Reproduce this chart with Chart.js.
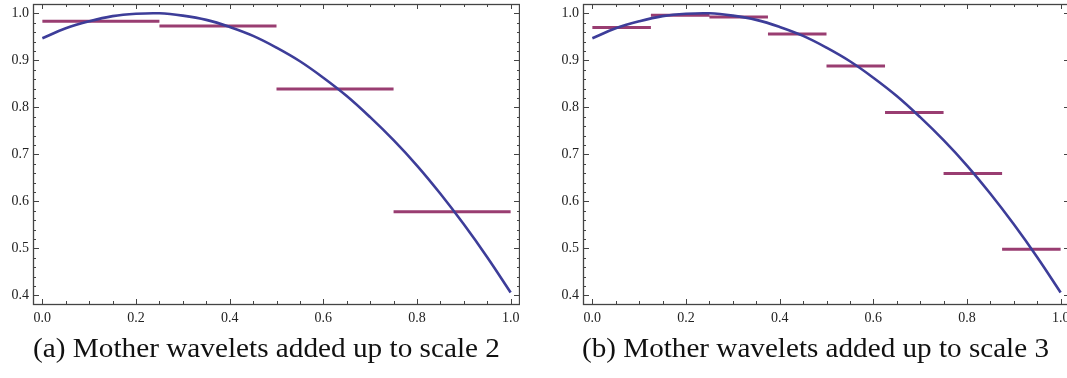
<!DOCTYPE html>
<html><head><meta charset="utf-8">
<script src="https://cdn.jsdelivr.net/npm/chart.js@4.4.1/dist/chart.umd.min.js"></script>
<style>
html,body{margin:0;padding:0;background:#fff;width:1067px;height:378px;overflow:hidden;position:relative}
.wrap{position:absolute;top:0;width:520px;height:334px}
#wa{left:0}
#wb{left:550px}
.cap{position:absolute;font-family:"Liberation Serif","Times New Roman",serif;font-size:28px;line-height:28px;color:#111;white-space:nowrap;transform-origin:0 0}
</style></head><body>
<div class="wrap" id="wa"><canvas id="ca"></canvas></div>
<div class="wrap" id="wb"><canvas id="cb"></canvas></div>
<div class="cap" id="capA" style="left:33px;top:334px">(a) Mother wavelets added up to scale 2</div>
<div class="cap" id="capB" style="left:582px;top:334px">(b) Mother wavelets added up to scale 3</div>
<script>
// ---- data ----
const curveX = [0,0.05,0.1,0.15,0.2,0.25,0.3,0.35,0.4,0.45,0.5,0.55,0.6,0.65,0.7,0.75,0.8,0.85,0.9,0.95,1.0];
const curveY = [0.947,0.968,0.983,0.994,0.999,1.000,0.995,0.986,0.971,0.952,0.927,0.898,0.863,0.824,0.779,0.730,0.676,0.616,0.551,0.481,0.406];
const edgesA = [0,0.25,0.5,0.75,1];
const stepsA = [0.983,0.973,0.839,0.578];
const edgesB = [0,0.125,0.25,0.375,0.5,0.625,0.75,0.875,1];
const stepsB = [0.970,0.996,0.992,0.956,0.888,0.789,0.659,0.498];
const xTickLabels = ['0.0','0.2','0.4','0.6','0.8','1.0'];
const yTickLabels = ['0.4','0.5','0.6','0.7','0.8','0.9','1.0'];

const FRAME = '#444';
const SERIF = '"Liberation Serif", "Times New Roman", serif';
const frameTicks = {
  id:'frameTicks',
  afterDraw(chart){
    const {ctx, chartArea:a, scales:{x,y}} = chart;
    ctx.save();
    ctx.strokeStyle = FRAME; ctx.lineWidth = 1;
    ctx.beginPath();
    for (let i=0;i<=20;i++){
      const px = Math.round(x.getPixelForValue(i*0.05))+0.5;
      const L = (i%4===0)?5:3;
      ctx.moveTo(px,a.bottom); ctx.lineTo(px,a.bottom-L);
      ctx.moveTo(px,a.top); ctx.lineTo(px,a.top+L);
    }
    for (let i=19;i<=51;i++){
      const v = i*0.02;
      if (v<y.min||v>y.max) continue;
      const py = Math.round(y.getPixelForValue(v))+0.5;
      const L = (i%5===0)?6:3;
      ctx.moveTo(a.left,py); ctx.lineTo(a.left+L,py);
      ctx.moveTo(a.right,py); ctx.lineTo(a.right-L,py);
    }
    ctx.stroke();
    ctx.lineWidth = 1.3;
    ctx.strokeRect(Math.round(a.left)+0.5, Math.round(a.top)+0.5, Math.round(a.right-a.left)-1, Math.round(a.bottom-a.top));
    ctx.restore();
  }
};

function stepData(edges, steps){
  const out = [];
  steps.forEach((v,i)=>{ out.push({x:edges[i],y:v},{x:edges[i+1],y:v},{x:edges[i+1],y:null}); });
  return out;
}

function makeChart(id, edges, steps){
  const tickFont = {family:SERIF, size:14};
  return new Chart(document.getElementById(id), {
    type:'line',
    data:{datasets:[
      {data: curveX.map((x,i)=>({x:x,y:curveY[i]})), borderColor:'#3d3d99', borderWidth:2.6, pointRadius:0, tension:0.4, fill:false},
      {data: stepData(edges, steps), borderColor:'#993d71', borderWidth:3, pointRadius:0, tension:0, spanGaps:false, borderCapStyle:'butt', fill:false}
    ]},
    options:{
      responsive:true, maintainAspectRatio:false, animation:false,
      layout:{padding:{top:4,left:0,right:0,bottom:0}, autoPadding:false},
      plugins:{legend:{display:false}, tooltip:{enabled:false}},
      scales:{
        x:{type:'linear', min:-0.02, max:1.02,
           afterBuildTicks(s){ s.ticks = xTickLabels.map(l=>({value:parseFloat(l)})); },
           afterFit(s){ s.height = 30; s.paddingLeft = 0; s.paddingRight = 0; },
           grid:{display:false, drawTicks:false}, border:{display:false},
           ticks:{autoSkip:false, maxRotation:0, padding:6, color:'#222', font:tickFont,
                  callback:(v)=>{ const l = xTickLabels.find(t=>Math.abs(parseFloat(t)-v)<1e-9); return l===undefined?'':l; }}},
        y:{type:'linear', min:0.3815, max:1.0198,
           afterBuildTicks(s){ s.ticks = yTickLabels.map(l=>({value:parseFloat(l)})); },
           afterFit(s){ s.width = 33; s.paddingTop = 0; s.paddingBottom = 0; },
           grid:{display:false, drawTicks:false}, border:{display:false},
           ticks:{autoSkip:false, padding:4, color:'#222', font:tickFont,
                  callback:(v)=>{ const l = yTickLabels.find(t=>Math.abs(parseFloat(t)-v)<1e-9); return l===undefined?'':l; }}}
      }
    },
    plugins:[frameTicks]
  });
}
makeChart('ca', edgesA, stepsA);
makeChart('cb', edgesB, stepsB);

['capA','capB'].forEach(id=>{
  const el = document.getElementById(id);
  const w = el.getBoundingClientRect().width;
  el.style.transform = 'scaleX(' + (467/w) + ')';
});
</script>
</body></html>
